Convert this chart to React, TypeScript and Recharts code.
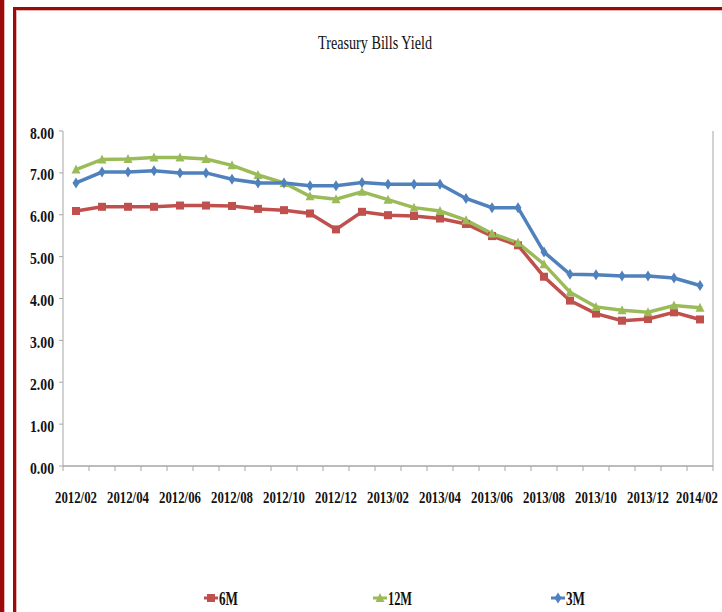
import React from 'react';
import { LineChart, Line, XAxis, YAxis } from 'recharts';

const months = [
  '2012/02', '2012/03', '2012/04', '2012/05', '2012/06', '2012/07', '2012/08', '2012/09',
  '2012/10', '2012/11', '2012/12', '2013/01', '2013/02', '2013/03', '2013/04', '2013/05',
  '2013/06', '2013/07', '2013/08', '2013/09', '2013/10', '2013/11', '2013/12', '2014/01', '2014/02',
];
const sixM = [6.09, 6.19, 6.19, 6.19, 6.22, 6.22, 6.21, 6.14, 6.11, 6.03, 5.65, 6.07, 5.99, 5.97, 5.91, 5.78, 5.49, 5.27, 4.52, 3.95, 3.64, 3.47, 3.51, 3.67, 3.5];
const twelveM = [7.08, 7.32, 7.33, 7.37, 7.37, 7.33, 7.18, 6.95, 6.76, 6.44, 6.37, 6.55, 6.36, 6.17, 6.09, 5.87, 5.55, 5.33, 4.82, 4.15, 3.8, 3.72, 3.67, 3.83, 3.78];
const threeM = [6.76, 7.02, 7.02, 7.05, 7.0, 7.0, 6.85, 6.76, 6.76, 6.69, 6.69, 6.77, 6.73, 6.73, 6.73, 6.39, 6.17, 6.17, 5.11, 4.58, 4.57, 4.54, 4.54, 4.49, 4.31];
const yTicks = [0, 1, 2, 3, 4, 5, 6, 7, 8];
const rightTicks = [0, 1, 2, 3, 4, 5, 6];
const title = 'Treasury Bills Yield';
const seriesNames = ['6M', '12M', '3M'];

const RED = '#C0504D';
const GREEN = '#9BBB59';
const BLUE = '#4F81BD';
const AXIS = '#a6a6a6';
const FONT = '"Liberation Serif", "DejaVu Serif", serif';

const data = months.map((m, i) => ({ idx: i, month: m, m6: sixM[i], m12: twelveM[i], m3: threeM[i] }));

const xTicks: number[] = [];
for (let i = 0; i <= months.length; i++) xTicks.push(i - 0.5);
for (let i = 0; i < months.length; i += 2) xTicks.push(i);

const XTick = (props: any) => {
  const { x, y, payload } = props;
  const v = payload.value;
  if (!Number.isInteger(v)) {
    return <line x1={x} y1={y} x2={x} y2={y + 5} stroke={AXIS} strokeWidth={1} />;
  }
  const last = v === months.length - 1;
  return (
    <text x={last ? x + 18 : x} y={y + 31} textAnchor={last ? 'end' : 'middle'} dominantBaseline="central" fontFamily={FONT}
      fontWeight="bold" fontSize={16} fill="#111" textLength={42} lengthAdjust="spacingAndGlyphs">
      {months[v]}
    </text>
  );
};

const YTick = (props: any) => {
  const { x, y, payload } = props;
  return (
    <g>
      <line x1={x - 4} y1={y} x2={x} y2={y} stroke={AXIS} strokeWidth={1} />
      <text x={x - 9} y={y + 2} textAnchor="end" dominantBaseline="central" fontFamily={FONT}
        fontWeight="bold" fontSize={17} fill="#111" textLength={24} lengthAdjust="spacingAndGlyphs">
        {Number(payload.value).toFixed(2)}
      </text>
    </g>
  );
};

const RTick = (props: any) => {
  const { x, y } = props;
  return <line x1={x} y1={y} x2={x + 4} y2={y} stroke={AXIS} strokeWidth={1} />;
};

const SquareDot = (props: any) => {
  const { cx, cy, index } = props;
  if (cx == null || cy == null) return <g key={`s${index}`} />;
  return <rect key={`s${index}`} x={cx - 4} y={cy - 4} width={8} height={8} fill={RED} />;
};
const TriDot = (props: any) => {
  const { cx, cy, index } = props;
  if (cx == null || cy == null) return <g key={`t${index}`} />;
  return <path key={`t${index}`} d={`M${cx},${cy - 5} L${cx + 4.5},${cy + 4} L${cx - 4.5},${cy + 4} Z`} fill={GREEN} />;
};
const DiaDot = (props: any) => {
  const { cx, cy, index } = props;
  if (cx == null || cy == null) return <g key={`d${index}`} />;
  return <path key={`d${index}`} d={`M${cx},${cy - 5.5} L${cx + 3.5},${cy} L${cx},${cy + 5.5} L${cx - 3.5},${cy} Z`} fill={BLUE} />;
};

const LegendIcon = ({ x, y, color, shape }: { x: number; y: number; color: string; shape: string }) => {
  let m: React.ReactNode;
  if (shape === 'square') m = <rect x={x - 4} y={y - 4} width={8} height={8} fill={color} />;
  else if (shape === 'tri') m = <path d={`M${x},${y - 5} L${x + 4.5},${y + 4} L${x - 4.5},${y + 4} Z`} fill={color} />;
  else m = <path d={`M${x},${y - 5.5} L${x + 3.5},${y} L${x},${y + 5.5} L${x - 3.5},${y} Z`} fill={color} />;
  return (
    <g>
      <line x1={x - 7} y1={y} x2={x + 7} y2={y} stroke={color} strokeWidth={3} />
      {m}
    </g>
  );
};

export default function App() {
  const legendItems = [
    { name: seriesNames[0], color: RED, shape: 'square', x: 211, w: 19 },
    { name: seriesNames[1], color: GREEN, shape: 'tri', x: 380, w: 24 },
    { name: seriesNames[2], color: BLUE, shape: 'dia', x: 558, w: 19 },
  ];
  return (
    <div style={{ position: 'fixed', left: 0, top: 0, width: 722, height: 612, background: '#fff', overflow: 'hidden' }}>
      {/* frame */}
      <div style={{ position: 'absolute', left: 0, top: 0, width: 4, height: 612, background: '#9c0b0b' }} />
      <div style={{ position: 'absolute', left: 4, top: 0, width: 1, height: 612, background: '#e6b3b3' }} />
      <div style={{ position: 'absolute', left: 13, top: 7, width: 2.5, height: 605, background: '#9c0b0b' }} />
      <div style={{ position: 'absolute', left: 15.5, top: 9.5, width: 1, height: 603, background: '#e6b3b3' }} />
      <div style={{ position: 'absolute', left: 13, top: 7, width: 709, height: 2.5, background: '#9c0b0b' }} />
      <div style={{ position: 'absolute', left: 15.5, top: 9.5, width: 707, height: 1, background: '#e6b3b3' }} />
      <div style={{ position: 'absolute', left: 0, top: 0 }}>
        <LineChart width={722} height={612} data={data} margin={{ top: 131, right: 0, bottom: 106, left: 0 }}>
          <XAxis dataKey="idx" type="number" domain={[-0.5, months.length - 0.5]} ticks={xTicks}
            interval={0} tick={<XTick />} tickLine={false} tickSize={0} tickMargin={0}
            axisLine={{ stroke: AXIS, strokeWidth: 1.5 }} height={40} allowDecimals />
          <YAxis yAxisId="left" domain={[0, 8]} ticks={yTicks} interval={0} width={63}
            tick={<YTick />} tickLine={false} tickSize={0} tickMargin={0} axisLine={{ stroke: AXIS }} />
          <YAxis yAxisId="right" orientation="right" domain={[0, 6]} ticks={rightTicks} interval={0} width={9}
            tick={<RTick />} tickLine={false} tickSize={0} tickMargin={0} axisLine={{ stroke: AXIS }} />
          <Line yAxisId="left" dataKey="m6" name={seriesNames[0]} stroke={RED} strokeWidth={3.5}
            dot={SquareDot} activeDot={false} isAnimationActive={false} />
          <Line yAxisId="left" dataKey="m12" name={seriesNames[1]} stroke={GREEN} strokeWidth={3.5}
            dot={TriDot} activeDot={false} isAnimationActive={false} />
          <Line yAxisId="left" dataKey="m3" name={seriesNames[2]} stroke={BLUE} strokeWidth={3.5}
            dot={DiaDot} activeDot={false} isAnimationActive={false} />
        </LineChart>
      </div>
      <svg width={722} height={612} style={{ position: 'absolute', left: 0, top: 0, pointerEvents: 'none' }}>
        <text x={375} y={42} textAnchor="middle" dominantBaseline="central" fontFamily={FONT}
          fontSize={19} fill="#111" textLength={114} lengthAdjust="spacingAndGlyphs">
          {title}
        </text>
        {legendItems.map((it) => (
          <g key={it.name}>
            <LegendIcon x={it.x} y={598} color={it.color} shape={it.shape} />
            <text x={it.x + 8} y={599} dominantBaseline="central" fontFamily={FONT} fontWeight="bold"
              fontSize={18} fill="#111" textLength={it.w} lengthAdjust="spacingAndGlyphs">
              {it.name}
            </text>
          </g>
        ))}
      </svg>
    </div>
  );
}
